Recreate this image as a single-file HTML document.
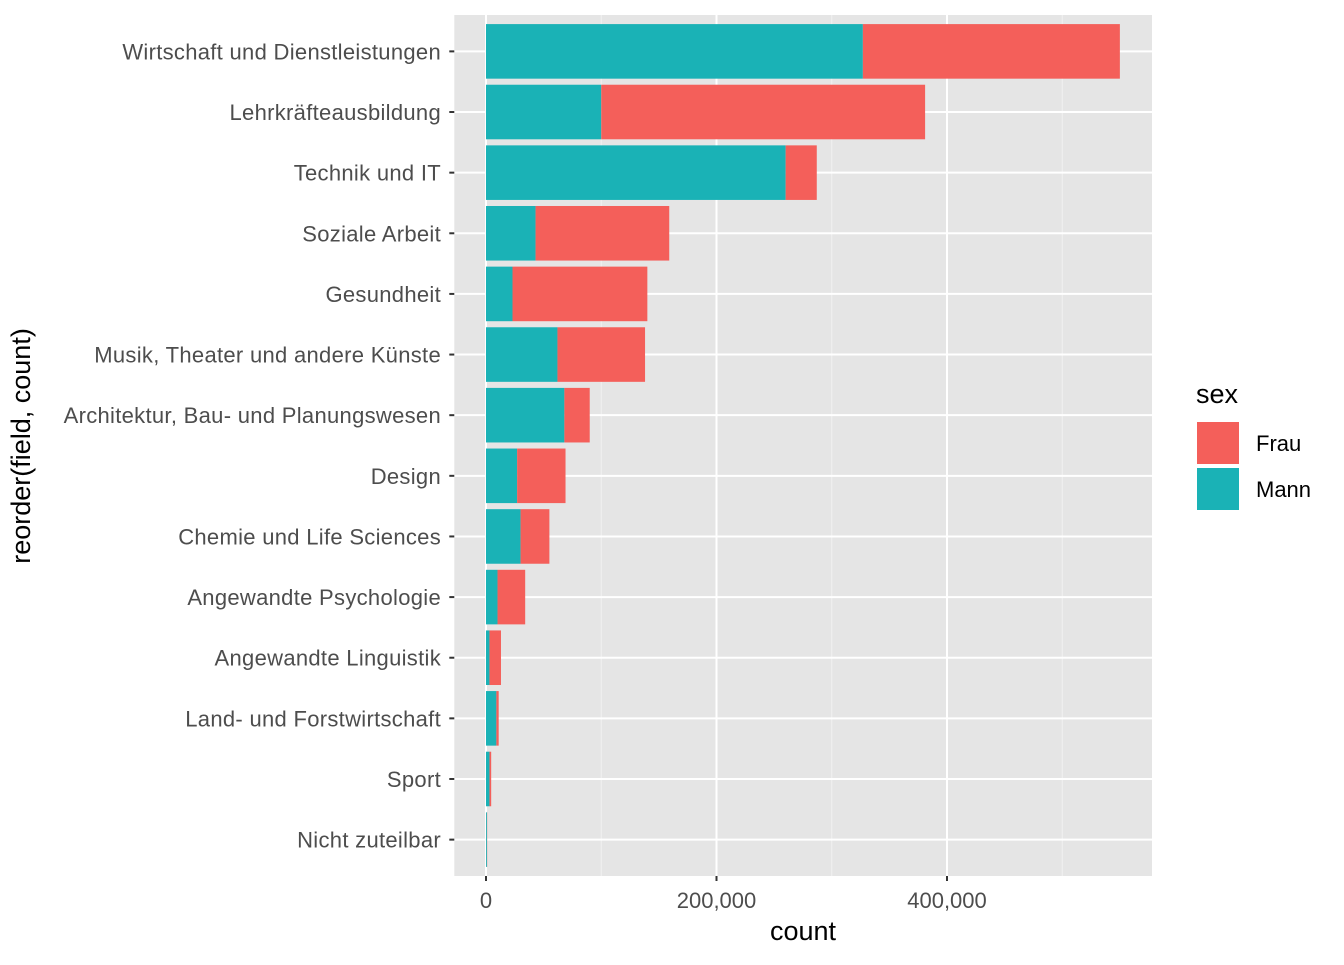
<!DOCTYPE html>
<html><head><meta charset="utf-8"><style>
body{margin:0;background:#fff;font-family:"Liberation Sans",Arial,sans-serif}
</style></head><body>
<svg id="chart" width="1344" height="960" xmlns="http://www.w3.org/2000/svg">
<rect id="panel" x="454.3" y="15" width="697.7" height="861" fill="#e5e5e5"/>
<g id="grid"></g><g id="bars"></g><g id="axes"></g>
<text x="803" y="940" font-size="27" text-anchor="middle" fill="#000">count</text>
<text transform="translate(30,446) rotate(-90)" font-size="27" text-anchor="middle" fill="#000">reorder(field, count)</text>
<g>
<text x="1196" y="403" font-size="27" fill="#000">sex</text>
<rect x="1196" y="421" width="44" height="44" fill="#F45F5A" stroke="#fff" stroke-width="2"/>
<text x="1256" y="451" font-size="22" fill="#000">Frau</text>
<rect x="1196" y="467" width="44" height="44" fill="#1AB2B6" stroke="#fff" stroke-width="2"/>
<text x="1256" y="497" font-size="22" fill="#000">Mann</text>
</g>
</svg>
<script>
const categories=["Wirtschaft und Dienstleistungen","Lehrkräfteausbildung","Technik und IT","Soziale Arbeit","Gesundheit","Musik, Theater und andere Künste","Architektur, Bau- und Planungswesen","Design","Chemie und Life Sciences","Angewandte Psychologie","Angewandte Linguistik","Land- und Forstwirtschaft","Sport","Nicht zuteilbar"];
const mann=[327000,100000,260000,43000,23000,62000,68000,27000,30000,10000,3000,9000,3000,800];
const frau=[223000,281000,27000,116000,117000,76000,22000,42000,25000,24000,10000,2000,1500,200];
const ticks=[0,200000,400000];
const tickLabels=["0","200,000","400,000"];
const minorTicks=[100000,300000,500000];
const svgNS="http://www.w3.org/2000/svg";
const x0=486,kx=230.5/200000,yTop=15,yBot=876,xL=454.3,xR=1152;
const band=(yBot-yTop)/(categories.length+0.2);
function xs(v){return x0+v*kx;}
function yc(i){return yTop+band*0.6+i*band;}
function mk(t,a,p){const e=document.createElementNS(svgNS,t);for(const q in a)e.setAttribute(q,a[q]);p.appendChild(e);return e;}
const gG=document.getElementById('grid'),gB=document.getElementById('bars'),gA=document.getElementById('axes');
minorTicks.forEach(v=>{const l=mk('line',{x1:xs(v),x2:xs(v),y1:yTop,y2:yBot,stroke:'#f2f2f2','stroke-width':1},gG);

});
ticks.forEach((v,i)=>{const l=mk('line',{x1:xs(v),x2:xs(v),y1:yTop,y2:yBot,stroke:'#fff','stroke-width':2},gG);


const tk=mk('line',{x1:xs(v),x2:xs(v),y1:yBot,y2:yBot+5,stroke:'#333','stroke-width':2},gA);


const t=mk('text',{x:xs(v),y:908,'font-size':22,'text-anchor':'middle',fill:'#4d4d4d'},gA);t.textContent=tickLabels[i];

});
categories.forEach((c,i)=>{const y=yc(i);
const l=mk('line',{x1:xL,x2:xR,y1:y,y2:y,stroke:'#fff','stroke-width':2},gG);


const h=band*0.9;
const r1=mk('rect',{x:xs(0),y:y-h/2,width:mann[i]*kx,height:h,fill:'#1AB2B6'},gB);


const r2=mk('rect',{x:xs(mann[i]),y:y-h/2,width:frau[i]*kx,height:h,fill:'#F45F5A'},gB);


const tk=mk('line',{x1:xL-5,x2:xL,y1:y,y2:y,stroke:'#333','stroke-width':2},gA);


const t=mk('text',{x:441,y:y+8,'font-size':22,'letter-spacing':'0.3','text-anchor':'end',fill:'#4d4d4d'},gA);t.textContent=c;

});
</script>
</body></html>
